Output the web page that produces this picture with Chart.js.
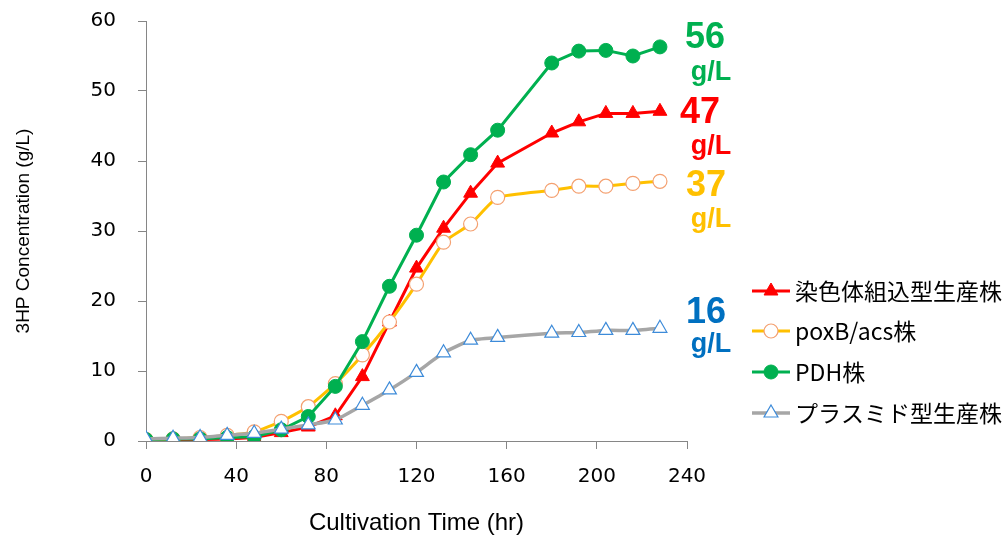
<!DOCTYPE html>
<html>
<head>
<meta charset="utf-8">
<script src="https://cdn.jsdelivr.net/npm/chart.js@4"></script>
<style>
  html, body { margin: 0; padding: 0; background: #fff; }
  #wrap { width: 1002px; height: 535px; }
</style>
</head>
<body>
<div id="wrap"><canvas id="chart" width="1002" height="535"></canvas></div>
<script>
const hours = [0, 12, 24, 36, 48, 60, 72, 84, 96, 108, 120, 132, 144, 156, 180, 192, 204, 216, 228];

const chromosomal = [0.1, 0.2, 0.2, 0.3, 0.5, 1.2, 2.0, 3.6, 9.2, 17.0, 24.7, 30.4, 35.4, 39.7, 44.0, 45.6, 46.8, 46.8, 47.1];
const poxbAcs     = [0.2, 0.3, 0.5, 0.8, 1.3, 2.8, 4.9, 8.2, 12.3, 17.0, 22.4, 28.4, 31.0, 34.8, 35.8, 36.4, 36.4, 36.8, 37.1];
const pdh         = [0.2, 0.3, 0.3, 0.5, 0.6, 1.6, 3.5, 7.8, 14.2, 22.1, 29.4, 37.0, 40.9, 44.4, 54.0, 55.7, 55.8, 55.0, 56.3];
const plasmid     = [0.3, 0.4, 0.5, 0.8, 1.1, 1.7, 2.3, 3.0, 5.1, 7.3, 9.8, 12.6, 14.4, 14.8, 15.4, 15.5, 15.8, 15.8, 16.1];

const seriesNames = ['染色体組込型生産株', 'poxB/acs株', 'PDH株', 'プラスミド型生産株'];
const finalLabels = ['47', '37', '56', '16'];
const labelColors = ['#FF0000', '#FFC000', '#00B050', '#0070C0'];

const CJK = '"Noto Sans CJK JP", "Noto Sans", sans-serif';
const TICK = '"DejaVu Sans", sans-serif';
const TITLE = '"Liberation Sans", Arial, sans-serif';

function pts(ys) {
    return hours.map((h, i) => ({ x: h, y: ys[i] }));
}

// legend + end labels drawn by hand so the plot area stays where it is
const extras = {
    id: 'extras',
    afterDraw(chart) {
        const c = chart.ctx;
        c.save();

        // end-of-run labels
        const anchors = [[700, 113, 147], [706, 186, 220], [705, 38, 73], [706, 313, 345]];
        anchors.forEach(([x, y1, y2], i) => {
            c.fillStyle = labelColors[i];
            c.textAlign = 'center';
            c.textBaseline = 'middle';
            c.font = 'bold 36px ' + TITLE;
            c.fillText(finalLabels[i], x, y1);
            c.font = 'bold 27px ' + TITLE;
            c.fillText('g/L', 711, y2);
        });

        // legend
        const rows = [291, 331, 372, 413];
        chart.data.datasets.forEach((ds, i) => {
            const y = rows[i];
            c.strokeStyle = ds.borderColor;
            c.lineWidth = ds.borderWidth;
            c.beginPath();
            c.moveTo(752, y);
            c.lineTo(790, y);
            c.stroke();

            c.fillStyle = ds.pointBackgroundColor;
            c.strokeStyle = ds.pointBorderColor;
            c.lineWidth = ds.pointBorderWidth;
            Chart.helpers.drawPoint(c, {
                pointStyle: ds.pointStyle,
                radius: ds.pointRadius,
                borderWidth: ds.pointBorderWidth,
                rotation: 0
            }, 771, y);

            c.fillStyle = '#000';
            c.textAlign = 'left';
            c.textBaseline = 'middle';
            c.font = '23px ' + CJK;
            c.fillText(ds.label, 795, y);
        });
        c.restore();
    }
};

new Chart(document.getElementById('chart'), {
    type: 'line',
    data: {
        datasets: [
            {
                label: seriesNames[0],
                data: pts(chromosomal),
                borderColor: '#FF0000',
                borderWidth: 3,
                pointStyle: 'triangle',
                pointRadius: 8,
                pointBackgroundColor: '#FF0000',
                pointBorderColor: '#FF0000',
                pointBorderWidth: 1,
                tension: 0,
                order: 3
            },
            {
                label: seriesNames[1],
                data: pts(poxbAcs),
                borderColor: '#FFC000',
                borderWidth: 3,
                pointStyle: 'circle',
                pointRadius: 7,
                pointBackgroundColor: '#FFFFFF',
                pointBorderColor: '#F4A070',
                pointBorderWidth: 1.2,
                tension: 0.15,
                order: 2
            },
            {
                label: seriesNames[2],
                data: pts(pdh),
                borderColor: '#00B050',
                borderWidth: 3,
                pointStyle: 'circle',
                pointRadius: 7,
                pointBackgroundColor: '#00B050',
                pointBorderColor: '#00B050',
                pointBorderWidth: 1,
                tension: 0,
                order: 1
            },
            {
                label: seriesNames[3],
                data: pts(plasmid),
                borderColor: '#A6A6A6',
                borderWidth: 3.5,
                pointStyle: 'triangle',
                pointRadius: 8,
                pointBackgroundColor: '#FFFFFF',
                pointBorderColor: '#3D8BD9',
                pointBorderWidth: 1.2,
                tension: 0.15,
                order: 0
            }
        ]
    },
    options: {
        responsive: false,
        animation: false,
        layout: { padding: { top: 21, right: 315, left: 0, bottom: 0 } },
        plugins: {
            legend: { display: false },
            tooltip: { enabled: false }
        },
        scales: {
            x: {
                type: 'linear',
                min: 0,
                max: 240,
                ticks: { stepSize: 40, color: '#000', padding: 16, font: { family: TICK, size: 20 } },
                grid: { drawOnChartArea: false, color: '#868686', tickLength: 8 },
                border: { color: '#868686', width: 1 },
                title: { display: true, text: 'Cultivation Time (hr)', color: '#000', padding: { top: 16, bottom: 0 }, font: { family: TITLE, size: 24, lineHeight: 1 } },
                afterFit(scale) { scale.height = 94; }
            },
            y: {
                min: 0,
                max: 60,
                ticks: { stepSize: 10, color: '#000', padding: 22, font: { family: TICK, size: 20 } },
                grid: { drawOnChartArea: false, color: '#868686', tickLength: 8 },
                border: { color: '#868686', width: 1 },
                title: { display: true, text: '3HP Concentration (g/L)', color: '#000', padding: { top: 12, bottom: 0 }, font: { family: TITLE, size: 19 } },
                afterFit(scale) {
                    scale.width = 146;
                    // tick padding would otherwise push the plot top down
                    scale.paddingTop = 0;
                    scale.paddingBottom = 0;
                }
            }
        }
    },
    plugins: [extras]
});
</script>
</body>
</html>
